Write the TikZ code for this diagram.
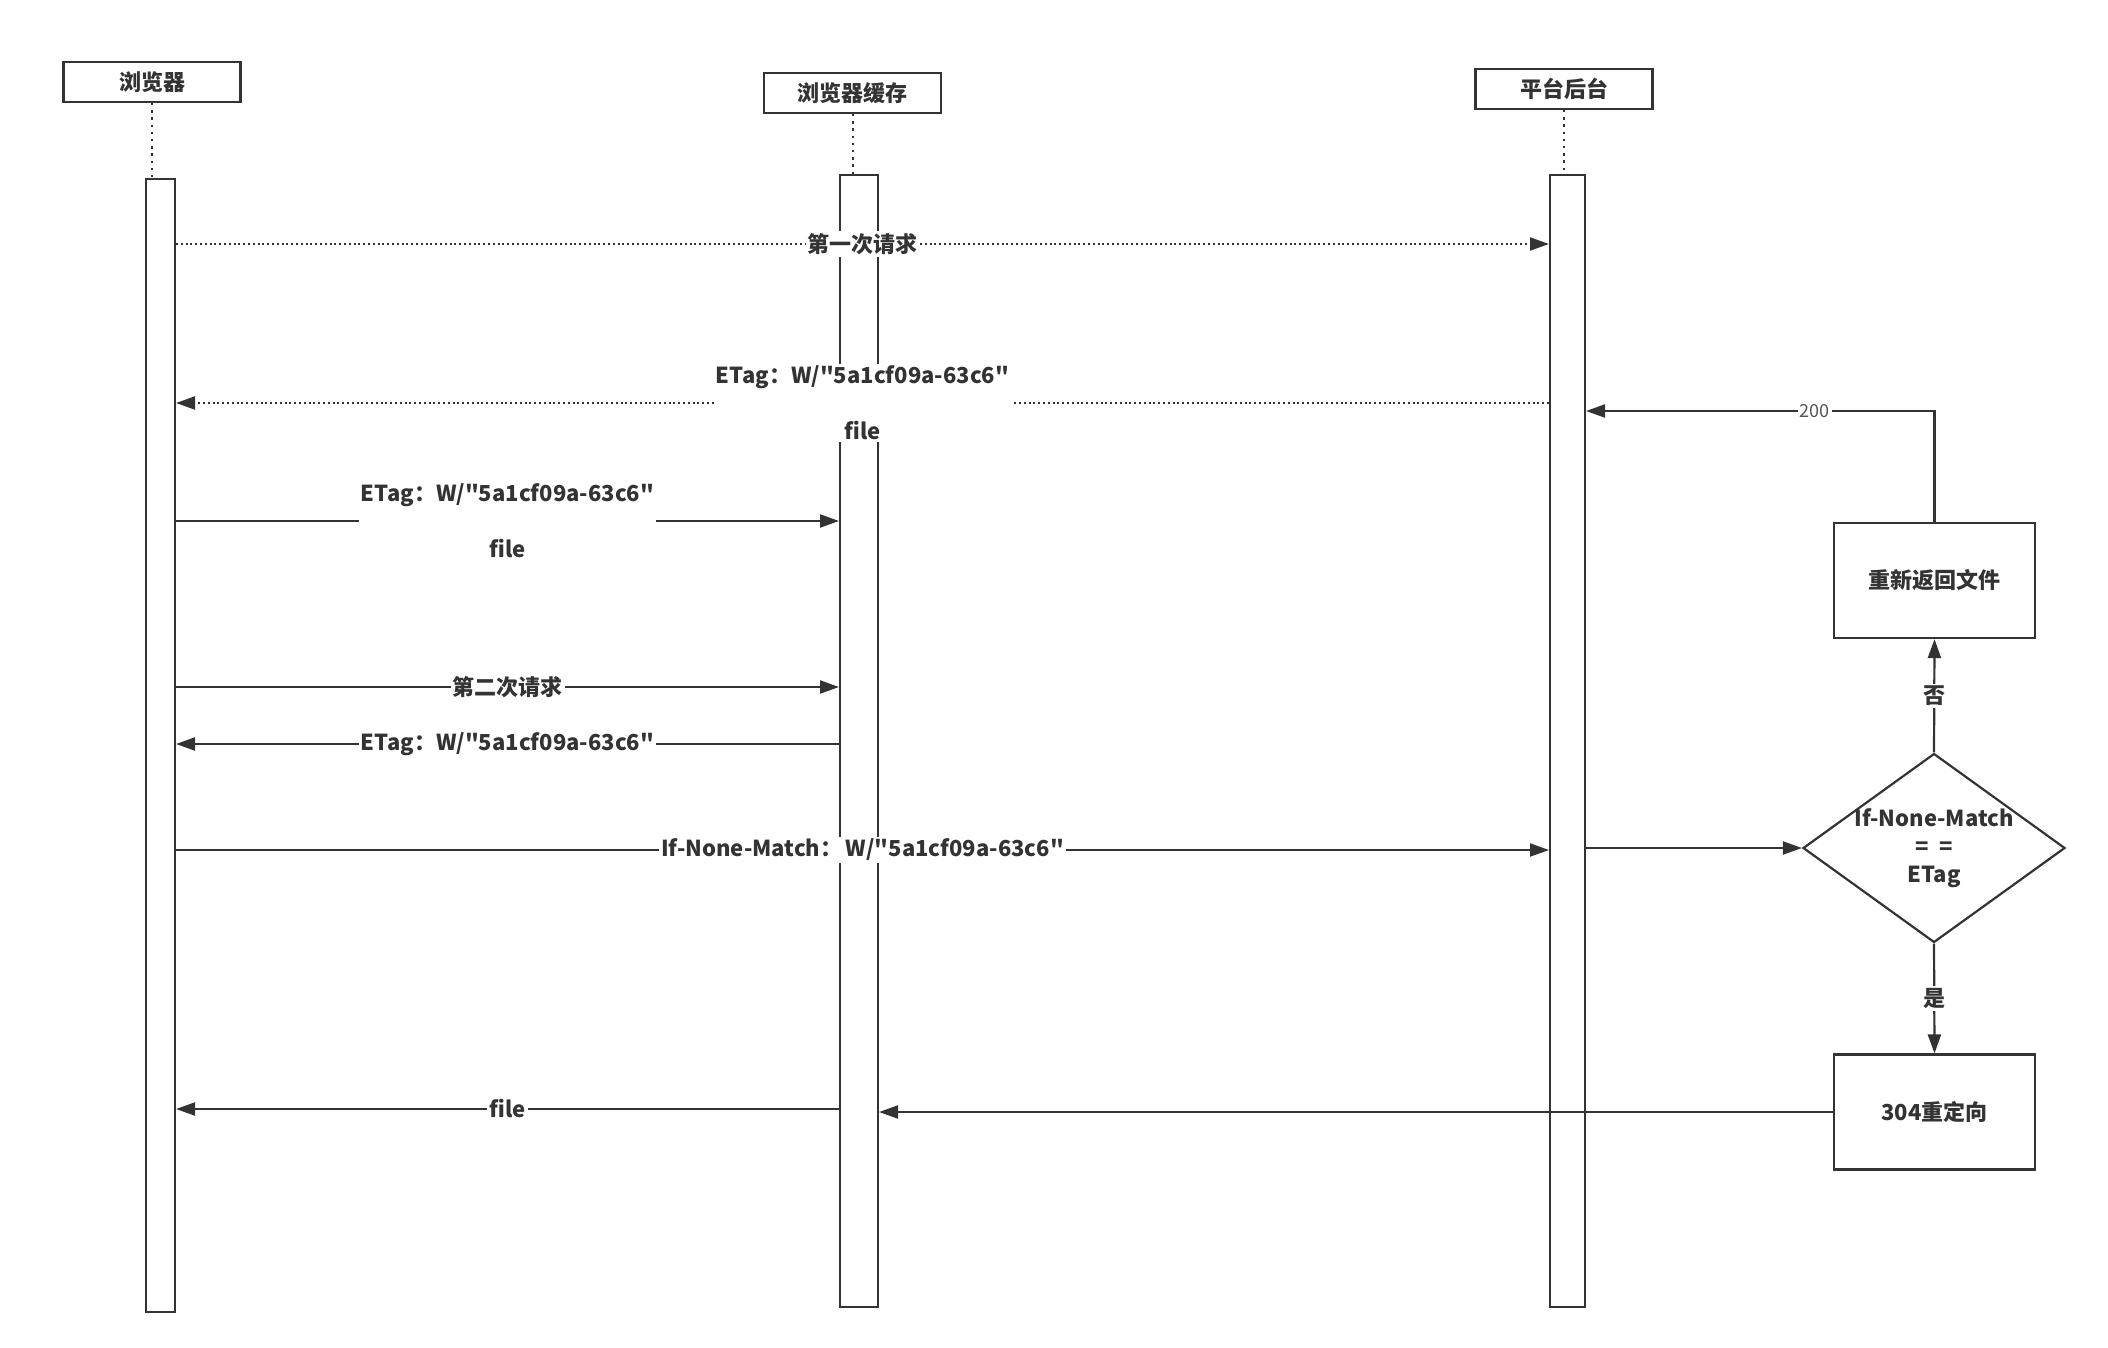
\documentclass[tikz,border=0pt]{standalone}
\usepackage{fontspec}
\newfontfamily\cjkf{Noto Sans CJK SC}
\usetikzlibrary{arrows.meta,shapes.geometric}
\definecolor{ink}{HTML}{333333}
\definecolor{lbl}{HTML}{555555}
\begin{document}
\begin{tikzpicture}[x=0.5pt,y=-0.5pt,
 every node/.style={text=ink,font=\cjkf\bfseries\fontsize{11}{13}\selectfont},
 head/.style={draw=ink,line width=1.1pt,fill=white,minimum width=88.5pt,minimum height=20pt,inner sep=0pt},
 bar/.style={draw=ink,line width=1pt,fill=white,inner sep=0pt},
 life/.style={draw=ink,line width=1pt,dash pattern=on 1.2pt off 2.4pt},
 msg/.style={draw=ink,line width=1.1pt,-{Triangle[length=9.5pt,width=6.5pt]}},
 dmsg/.style={msg,dash pattern=on 1pt off 1.4pt},
 lab/.style={fill=white,inner sep=1pt},
 lab2/.style={fill=white,inner sep=1pt,align=center,font=\cjkf\bfseries\fontsize{11}{28}\selectfont},
 small/.style={fill=white,inner sep=1pt,text=lbl,font=\cjkf\fontsize{9}{11}\selectfont},
 procbox/.style={draw=ink,line width=1.1pt,fill=white,minimum width=100.5pt,minimum height=57.5pt,inner sep=0pt},
 dec/.style={diamond,draw=ink,line width=1.1pt,fill=white,minimum width=131pt,minimum height=94.5pt,inner sep=0pt}
]
\useasboundingbox (0,0) rectangle (2108,1348);
% headers
\node[head] (hA) at (152,82) {浏览器};
\node[head] (hC) at (852.5,93) {浏览器缓存};
\node[head] (hS) at (1564,89) {平台后台};
% lifeline bars
\node[bar,minimum width=14.5pt,minimum height=566.5pt] (bA) at (160.5,745.5) {};
\node[bar,minimum width=19pt,minimum height=566pt] (bC) at (859,741) {};
\node[bar,minimum width=17.5pt,minimum height=566pt] (bS) at (1567.5,741) {};
\draw[life] (hA.south) -- (hA.south |- bA.north);
\draw[life] (hC.south) -- (hC.south |- bC.north);
\draw[life] (hS.south) -- (hS.south |- bS.north);
% right side nodes
\node[procbox] (ret) at (1934.5,580.5) {重新返回文件};
\node[dec] (dec) at (1934,848) {};
\node[align=center,font=\cjkf\bfseries\fontsize{11}{14}\selectfont] (dect) at (1934,848) {If-None-Match\\=\ \ =\\ETag};
\node[procbox] (redir) at (1934.5,1112) {304重定向};
% message rows
\coordinate (m1) at (0,244);
\coordinate (m2) at (0,403);
\coordinate (m3) at (0,521);
\coordinate (m4) at (0,687);
\coordinate (m5) at (0,744);
\coordinate (m6) at (0,850);
\coordinate (m9) at (0,411);
\coordinate (m11) at (0,1112);
\coordinate (m12) at (0,1109);
\draw[dmsg] (bA.east |- m1) -- node[lab] {第一次请求} (bS.west |- m1);
\draw[dmsg] (bS.west |- m2) -- node[lab2] {ETag：W/"5a1cf09a-63c6"\\file} (bA.east |- m2);
\draw[msg] (bA.east |- m3) -- node[lab2] {ETag：W/"5a1cf09a-63c6"\\file} (bC.west |- m3);
\draw[msg] (bA.east |- m4) -- node[lab] {第二次请求} (bC.west |- m4);
\draw[msg] (bC.west |- m5) -- node[lab] {ETag：W/"5a1cf09a-63c6"} (bA.east |- m5);
\draw[msg] (bA.east |- m6) -- node[lab] {If-None-Match：\,W/"5a1cf09a-63c6"} (bS.west |- m6);
\draw[msg] (bS.east |- dec.west) -- (dec.west);
\draw[msg] (dec.north) -- node[lab] {否} (ret.south);
\draw[msg] (ret.north) |- node[small,pos=0.672] {200} (bS.east |- m9);
\draw[msg] (dec.south) -- node[lab] {是} (redir.north);
\draw[msg] (redir.west |- m11) -- (bC.east |- m11);
\draw[msg] (bC.west |- m12) -- node[lab] {file} (bA.east |- m12);
\end{tikzpicture}
\end{document}
